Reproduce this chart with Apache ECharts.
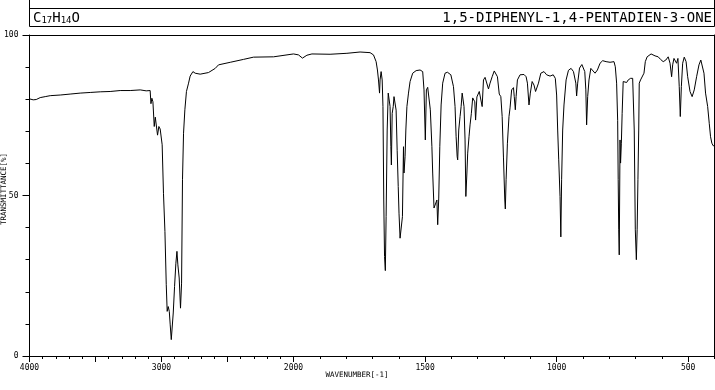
<!DOCTYPE html>
<html><head><meta charset="utf-8">
<script src="https://cdn.jsdelivr.net/npm/echarts@6/dist/echarts.min.js"></script>
<style>html,body{margin:0;padding:0;background:#fff}#c{width:715px;height:390px}</style>
</head><body><div id="c"></div>
<script>
// IR spectrum data (wavenumber in cm-1, transmittance in %)
const wavenumber = [
4000,3972,3949,3919,3881,3843,3767,3692,3616,3540,
3464,3389,3313,3237,3161,3116,3086,3080,3073,3065,
3055,3047,3038,3030,3020,3010,2995,2985,2974,2964,
2957,2949,2941,2934,2926,2919,2911,2901,2891,2883,
2876,2866,2856,2848,2841,2833,2823,2811,2795,2783,
2762,2745,2707,2644,2593,2568,2479,2379,2303,2151,
2000,
1981,1966,1949,1930,1861,1797,1747,1709,1696,1690,
1686,1681,1677,1673,1671,1667,1663,1660,1657,1654,
1651,1648,1644,1640,1637,1633,1630,1628,1625,1621,
1618,1614,1610,1606,1602,1599,1595,1590,1586,1582,
1580,1576,1573,1569,1563,1557,1547,1534,1519,1509,
1504,1499,1495,1490,1485,1480,1474,1471,1466,1461,
1455,1452,1448,1444,1439,1433,1424,1415,1402,1392,
1386,1382,1378,1376,1372,1367,1363,1359,1355,1352,
1348,1345,1341,1338,1333,1329,1324,1319,1315,1311,
1308,1303,1300,1294,1287,1283,1278,1272,1265,1259,
1253,1245,1237,1230,1225,1218,1212,1207,1202,1197,
1195,1192,1187,1181,1177,1171,1164,1161,1157,1154,
1149,1146,1139,1133,1124,1116,1111,1105,1100,1093,
1086,1080,1076,1069,1060,1048,1038,1025,1013,1005,
1000,996,992,987,984,981,977,972,964,955,
945,936,927,924,920,913,904,897,893,889,
886,882,877,870,863,854,845,835,825,812,
797,782,777,772,768,766,764,762,759,757,
754,751,747,740,734,728,719,711,705,701,
697,694,691,688,686,681,676,668,663,656,
641,626,614,605,595,585,576,569,563,559,
554,549,544,539,534,530,526,521,515,508,
502,493,485,477,468,459,452,445,440,434,
426,420,415,410,405,400
];
const transmittance = [
80.1,79.8,79.9,80.5,80.8,81.1,81.3,81.6,81.9,82.1,
82.3,82.4,82.7,82.7,82.9,82.6,82.7,78.6,80.3,79.2,
71.5,74.4,74.8,68.8,71.5,70.7,65.8,50.7,38.8,22.2,
13.9,15.4,13.9,9.7,5.1,5.3,13.4,21.7,28.9,32.6,
28.4,24.3,14.9,22.7,54.9,69.4,76.7,82.4,85.0,87.2,
88.6,88.1,87.8,88.3,89.6,90.7,91.5,92.4,93.1,93.2,
94.1,
93.8,92.8,93.7,94.1,94.0,94.3,94.7,94.5,93.8,93.2,
91.7,89.1,86.0,81.9,86.0,88.6,86.0,77.7,48.6,31.0,
26.6,43.4,70.4,81.9,82.4,77.7,65.2,59.5,75.6,77.7,
80.8,81.3,76.6,64.1,52.8,44.5,36.7,36.4,43.4,65.2,
57.0,62.1,70.4,77.7,81.9,85.5,88.1,88.9,89.1,88.6,
82.9,67.3,82.9,83.7,83.4,76.7,65.2,57.0,46.1,46.6,
48.6,40.9,49.2,65.2,78.2,85.0,88.1,88.4,87.6,83.9,
77.7,68.3,62.1,61.1,70.4,74.6,77.7,81.9,81.3,77.7,
67.3,49.7,57.0,63.2,68.3,72.0,75.6,80.4,80.8,79.2,
73.5,80.7,81.3,82.4,82.0,77.7,86.0,86.8,86.2,83.2,
85.0,87.0,88.8,89.0,87.0,81.6,80.8,74.6,61.7,48.6,
45.8,54.9,66.3,74.6,77.3,82.9,83.6,80.8,76.7,80.8,
86.0,86.5,87.6,87.8,87.7,87.0,85.0,78.2,81.9,85.5,
84.4,82.4,81.9,85.0,88.1,88.6,87.6,87.2,87.6,86.5,
81.3,70.4,61.1,49.7,37.1,54.9,70.4,78.2,86.0,89.0,
89.6,88.6,85.0,81.0,85.0,89.7,90.8,91.2,88.6,82.9,
72.0,80.8,86.0,89.6,89.1,88.1,89.1,91.2,92.0,91.7,
91.5,91.7,90.1,85.0,73.3,54.9,39.3,31.5,67.3,60.1,
66.3,75.6,85.5,86.0,85.2,86.0,86.5,86.5,70.4,39.3,
30.0,39.3,54.9,70.4,85.0,86.0,85.5,88.1,91.7,93.2,
94.1,93.5,93.2,92.4,91.7,92.2,93.2,91.2,87.0,90.7,
92.7,93.2,91.2,92.7,83.9,74.6,83.9,91.2,93.1,91.7,
87.0,82.4,80.8,82.9,87.0,90.7,92.2,92.0,88.1,81.9,
77.7,72.5,68.3,66.3,65.5,65.5
];
// Axis ticks / labels
const xMajorHigh = [2000, 2500, 3000, 3500, 4000];
const xLabelsHigh = [4000, 3000, 2000];
const xMajorLow = [500, 1000, 1500, 2000];
const xLabelsLow = [1500, 1000, 500];
const yLabels = [0, 50, 100];
const formulaText = 'C{s|17}H{s|14}O';
const compoundName = '1,5-DIPHENYL-1,4-PENTADIEN-3-ONE';
const xTitle = 'WAVENUMBER[-1]';
const yTitle = 'TRANSMITTANCE[%]';

const hi = [], lo = [];
wavenumber.forEach((w, i) => {
  if (w >= 2000) hi.push([w, transmittance[i]]);
  if (w <= 2000) lo.push([w, transmittance[i]]);
});
const minorHigh = [], minorLow = [];
for (let v = 2000; v <= 4000; v += 100) minorHigh.push(v);
for (let v = 400; v <= 2000; v += 100) minorLow.push(v);

const FONT = 'DejaVu Sans Mono';
const K = '#000';
const line = { show: true, lineStyle: { color: K, width: 1 } };
const noLine = { show: false };
const lab = { fontFamily: FONT, fontSize: 8, color: K };

function bottomAxis(grid, min, max, majors, labels) {
  return {
    type: 'value', gridIndex: grid, position: 'bottom', min, max, inverse: true,
    axisLine: line, splitLine: { show: false },
    axisTick: { show: true, length: 6, lineStyle: { color: K }, customValues: majors },
    axisLabel: Object.assign({ show: true, margin: 8, customValues: labels, formatter: v => String(v) }, lab)
  };
}
function minorAxis(grid, min, max, vals) {
  return {
    type: 'value', gridIndex: grid, position: 'bottom', min, max, inverse: true,
    axisLine: noLine, splitLine: { show: false }, axisLabel: { show: false },
    axisTick: { show: true, length: 3, lineStyle: { color: K }, customValues: vals }
  };
}
function topAxis(grid, min, max) {
  return {
    type: 'value', gridIndex: grid, position: 'top', min, max, inverse: true,
    axisLine: line, axisTick: { show: false }, axisLabel: { show: false }, splitLine: { show: false }
  };
}

const chart = echarts.init(document.getElementById('c'), null, { renderer: 'canvas' });
chart.setOption({
  animation: false,
  backgroundColor: '#fff',
  grid: [
    { left: 29.5, top: 35, width: 264, height: 321 },
    { left: 293.5, top: 35, width: 421, height: 321 }
  ],
  xAxis: [
    bottomAxis(0, 2000, 4000, xMajorHigh, xLabelsHigh),
    minorAxis(0, 2000, 4000, minorHigh),
    topAxis(0, 2000, 4000),
    bottomAxis(1, 400, 2000, xMajorLow, xLabelsLow),
    minorAxis(1, 400, 2000, minorLow),
    topAxis(1, 400, 2000)
  ],
  yAxis: [
    {
      type: 'value', gridIndex: 0, position: 'left', min: 0, max: 100, interval: 50,
      axisLine: line, splitLine: { show: false },
      axisTick: { show: true, length: 7, lineStyle: { color: K } },
      minorTick: { show: true, splitNumber: 5, length: 4, lineStyle: { color: K } },
      axisLabel: Object.assign({ margin: 11, customValues: yLabels, formatter: v => String(v) }, lab)
    },
    {
      type: 'value', gridIndex: 1, position: 'right', min: 0, max: 100,
      axisLine: line, axisTick: { show: false }, axisLabel: { show: false }, splitLine: { show: false }
    }
  ],
  series: [
    { type: 'line', xAxisIndex: 0, yAxisIndex: 0, data: hi, showSymbol: false, symbol: 'none',
      lineStyle: { color: K, width: 1 }, silent: true },
    { type: 'line', xAxisIndex: 3, yAxisIndex: 1, data: lo, showSymbol: false, symbol: 'none',
      lineStyle: { color: K, width: 1 }, silent: true }
  ],
  graphic: [
    { type: 'line', shape: { x1: 29.5, y1: 0, x2: 29.5, y2: 26.5 }, style: { stroke: K, lineWidth: 1 } },
    { type: 'line', shape: { x1: 714.5, y1: 0, x2: 714.5, y2: 26.5 }, style: { stroke: K, lineWidth: 1 } },
    { type: 'line', shape: { x1: 29.5, y1: 8.5, x2: 714.5, y2: 8.5 }, style: { stroke: K, lineWidth: 1 } },
    { type: 'line', shape: { x1: 29.5, y1: 26.5, x2: 714.5, y2: 26.5 }, style: { stroke: K, lineWidth: 1 } },
    { type: 'text', x: 33, y: 18, style: {
        text: formulaText, fontFamily: FONT, fontSize: 14, fill: K, align: 'left', verticalAlign: 'middle',
        rich: { s: { fontFamily: FONT, fontSize: 9, fill: K, padding: [6, 0, 0, 0] } } } },
    { type: 'text', x: 712, y: 18, style: {
        text: compoundName, fontFamily: FONT, fontSize: 14, fill: K, align: 'right', verticalAlign: 'middle' } },
    { type: 'text', x: 357, y: 375, style: {
        text: xTitle, fontFamily: FONT, fontSize: 7.5, fill: K, align: 'center', verticalAlign: 'middle' } },
    { type: 'text', x: 4, y: 189, rotation: Math.PI / 2, style: {
        text: yTitle, fontFamily: FONT, fontSize: 7.5, fill: K, align: 'center', verticalAlign: 'middle' } }
  ]
});
</script>
</body></html>
